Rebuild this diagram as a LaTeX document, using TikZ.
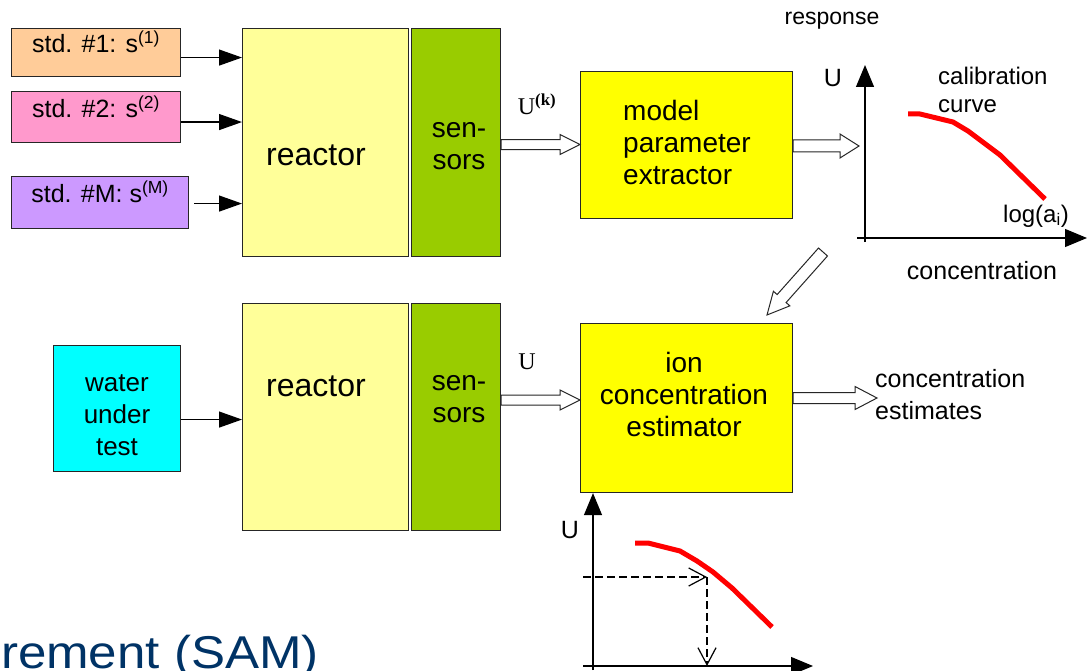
\documentclass[tikz,border=0pt]{standalone}
\usepackage{fontspec}
\setmainfont{Liberation Sans}
\newfontfamily\serifU{Liberation Serif}
\usetikzlibrary{arrows.meta,calc}
\definecolor{cstdA}{HTML}{FFCC99}
\definecolor{cstdB}{HTML}{FF99CC}
\definecolor{cstdM}{HTML}{CC99FF}
\definecolor{creact}{HTML}{FFFF99}
\definecolor{csens}{HTML}{99CC00}
\definecolor{cyel}{HTML}{FFFF00}
\definecolor{cwater}{HTML}{00FFFF}
\definecolor{ctitle}{HTML}{003366}
\newcommand\fs[1]{\fontsize{#1}{32}\selectfont}
% hollow block arrow: from, to, shaft half width, head half width, head length
\newcommand\harrow[5]{%
  \coordinate (hA) at #1; \coordinate (hB) at #2;
  \coordinate (hH) at ($(hB)!#5!(hA)$);
  \draw[hollow] ($(hA)!#3!90:(hB)$) -- ($(hH)!#3!90:(hB)$) -- ($(hH)!#4!90:(hB)$) -- (hB)
    -- ($(hH)!#4!-90:(hB)$) -- ($(hH)!#3!-90:(hB)$) -- ($(hA)!#3!-90:(hB)$) -- cycle;}
\begin{document}
\begin{tikzpicture}[x=1pt,y=-1pt,
  box/.style={draw=black!85, line width=1.1pt, inner sep=0pt, anchor=north west},
  stdbox/.style={box, font=\fs{25}, text height=0pt, text depth=0pt},
  txt/.style={inner sep=0pt, align=center},
  feed/.style={line width=1.2pt, -{Triangle[length=23pt,width=16pt]}},
  axis/.style={line width=1.2pt, -{Triangle[length=22pt,width=18pt]}},
  curve/.style={draw=red, line width=5pt, line join=round},
  guide/.style={line width=1.2pt, dash pattern=on 8pt off 4pt, -{Straight Barb[length=17pt,width=18pt]}},
  hollow/.style={draw=black!85, line width=1pt, fill=white, line join=miter},
]
\fill[white] (0,0) rectangle (1091,671);
\useasboundingbox (0,0) rectangle (1091,671);

% ---------- top row ----------
\node[stdbox, fill=cstdA, minimum width=169pt, minimum height=48pt] (std1) at (11,28) {std. \#1: s\textsuperscript{(1)}};
\node[stdbox, fill=cstdB, minimum width=169pt, minimum height=51pt] (std2) at (11,91) {std. \#2: s\textsuperscript{(2)}};
\node[stdbox, fill=cstdM, minimum width=177pt, minimum height=52pt] (stdM) at (11,176) {std. \#M: s\textsuperscript{(M)}};

\node[box, fill=creact, minimum width=166pt, minimum height=228pt] (r1) at (242,28) {};
\node[txt, font=\fs{32}] (r1t) at (316,155) {reactor};
\node[box, fill=csens, minimum width=89pt, minimum height=228pt] (sen1) at (411,28) {};
\node[txt, font=\fs{28}] (sen1t) at (459,146) {sen-\\sors};

\draw[feed] ($(std1.east)+(0,5)$) -- (r1.west |- {$(std1.east)+(0,5)$});
\draw[feed] ($(std2.east)+(0,5)$) -- (r1.west |- {$(std2.east)+(0,5)$});
\draw[feed] ($(stdM.east)+(5,1)$) -- (r1.west |- {$(stdM.east)+(0,1)$});

\node[box, fill=cyel, minimum width=212pt, minimum height=147pt] (ext) at (580,71) {};
\node[txt, anchor=west, align=left, font=\fs{28}] (extt) at (623,142) {model\\parameter\\extractor};

\coordinate (u1a) at ($(sen1.east)+(0,2)$);
\harrow{(u1a)}{(ext.west |- u1a)}{5pt}{10pt}{20pt}
\node[txt, font=\serifU\fontsize{24}{28}\selectfont] (uk) at (537,104) {U\textsuperscript{\textbf{(k)}}};

% top calibration graph
\coordinate (g1in) at (859,146);
\harrow{(ext.east |- g1in)}{(g1in)}{6pt}{12pt}{19pt}
\coordinate (g1yb) at (865,242); \coordinate (g1yt) at (865,65);
\coordinate (g1xl) at (857,238); \coordinate (g1xr) at (1087,238);
\draw[axis] (g1yb) -- (g1yt);
\draw[axis] (g1xl) -- (g1xr);
\draw[curve] (908,114) -- (920,114) -- (953,122) -- (968,131) -- (1000,155) -- (1045,199);
\node[txt, font=\fs{23}] (resp) at (832,21) {response};
\node[txt, font=\fs{25}] (g1u) at (833,78) {U};
\node[txt, anchor=west, align=left, font=\fs{24}] (calt) at (938,90) {calibration\\[-4pt]curve};
\node[txt, font=\fs{24}] (loga) at (1036,216) {log(a\textsubscript{i})};
\node[txt, font=\fs{25}] (conc) at (982,271) {concentration};

% diagonal arrow
\coordinate (d1) at (823,252); \coordinate (d2) at (767,315);
\harrow{(d1)}{(d2)}{6pt}{11pt}{22pt}

% ---------- bottom row ----------
\node[box, fill=cwater, minimum width=127pt, minimum height=126pt] (water) at (53,345) {};
\node[txt, font=\fs{26}] (watert) at (117,415) {water\\under\\test};
\node[box, fill=creact, minimum width=166pt, minimum height=227pt] (r2) at (242,303) {};
\node[txt, font=\fs{32}] (r2t) at (316,386) {reactor};
\node[box, fill=csens, minimum width=89pt, minimum height=227pt] (sen2) at (411,303) {};
\node[txt, font=\fs{28}] (sen2t) at (459,399) {sen-\\sors};

\draw[feed] ($(water.east)+(0,11)$) -- (r2.west |- {$(water.east)+(0,11)$});

\node[box, fill=cyel, minimum width=212pt, minimum height=169pt] (est) at (580,323) {};
\node[txt, font=\fs{28}] (estt) at (684,394) {ion\\concentration\\estimator};

\coordinate (u2a) at ($(sen2.east)+(0,-17)$);
\harrow{(u2a)}{(est.west |- u2a)}{5pt}{10pt}{20pt}
\node[txt, font=\serifU\fontsize{24}{28}\selectfont] (u2) at (527,362) {U};

\coordinate (outE) at (877,398);
\harrow{(est.east |- outE)}{(outE)}{5.5pt}{11.5pt}{22pt}
\node[txt, anchor=west, align=left, font=\fs{25}] (estim) at (875,395) {concentration\\estimates};

% bottom graph
\coordinate (g2yb) at (593,670);
\coordinate (g2xl) at (583,666); \coordinate (g2xr) at (813,666);
\draw[axis] (g2yb) -- (est.south -| g2yb);
\draw[axis] (g2xl) -- (g2xr);
\draw[curve] (635,543) -- (648,543) -- (680,551) -- (697,561) -- (713,572) -- (732,588) -- (772,627);
\node[txt, font=\fs{25}] (g2u) at (570,530) {U};
\coordinate (gs) at (583,577); \coordinate (gp) at (707,577); \coordinate (gb) at (707,666);
\draw[guide] (gs) -- (gp);
\draw[guide] (gp) -- (gb);

% partial title (cut by the page edge, as in the reference)
\node[anchor=base east, inner sep=0pt, text=ctitle, font=\fontsize{46}{50}\selectfont, xscale=1.11, transform shape] (title) at (319,668) {rement (SAM)};
\end{tikzpicture}
\end{document}
